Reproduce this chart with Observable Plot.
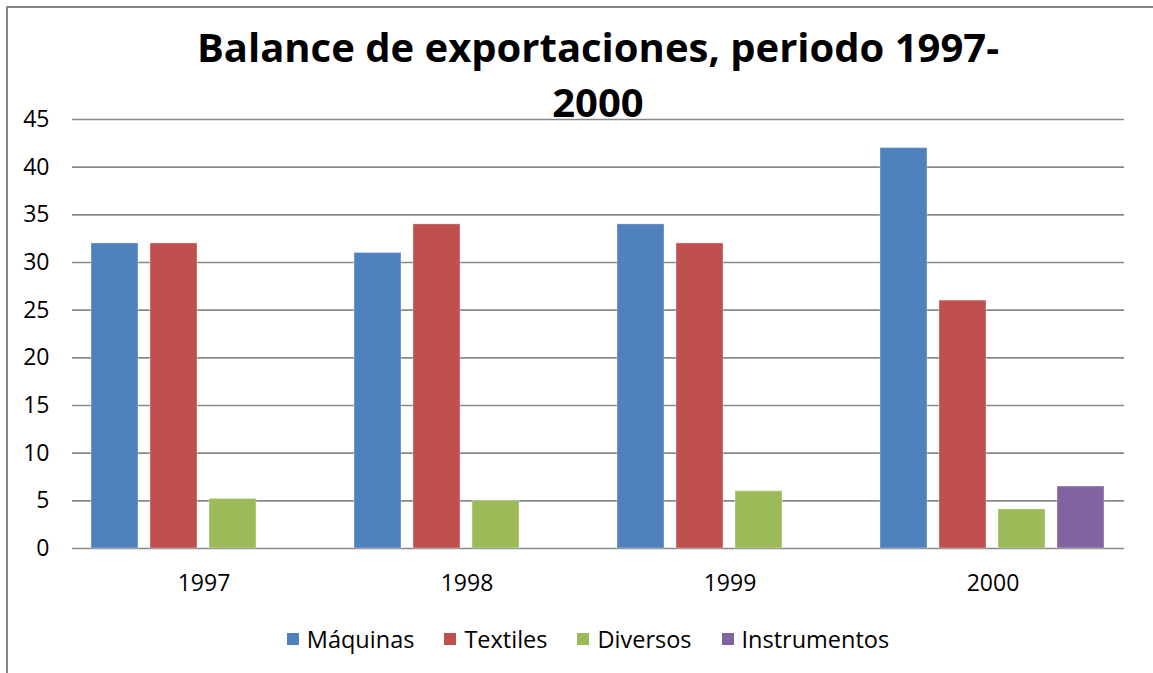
<!DOCTYPE html>
<html>
<head>
<meta charset="utf-8">
<script src="https://cdn.jsdelivr.net/npm/d3@7"></script>
<script src="https://cdn.jsdelivr.net/npm/@observablehq/plot@0.6"></script>
<style>
  html, body { margin: 0; padding: 0; background: #fff; }
  #wrap { position: relative; width: 1153px; height: 673px; overflow: hidden; font-family: "Open Sans", sans-serif; }
  #frame { position: absolute; left: 6px; top: 6px; width: 1300px; height: 900px; border-left: 2px solid #878787; border-top: 2px solid #878787; }
  #title { position: absolute; left: 48px; width: 1100px; top: 19px; text-align: center; font-weight: bold; font-size: 40px; line-height: 55px; color: #000; z-index: 2; }
  #chart { position: absolute; left: 0; top: 0; z-index: 1; }
  #legend { position: absolute; left: 0; width: 1176px; top: 625px; height: 28px; display: flex; justify-content: center; align-items: center; font-size: 23.5px; color: #000; }
  .item { display: flex; align-items: center; margin: 0 15px; }
  .sw { width: 12px; height: 12px; margin-right: 8px; }
</style>
</head>
<body>
<div id="wrap">
  <div id="frame"></div>
  <div id="chart"></div>
  <div id="title">Balance de exportaciones, periodo 1997-<br>2000</div>
  <div id="legend"></div>
</div>
<script>
const years = ["1997", "1998", "1999", "2000"];
const series = ["Máquinas", "Textiles", "Diversos", "Instrumentos"];
const maquinas = [32, 31, 34, 42];
const textiles = [32, 34, 32, 26];
const diversos = [5.2, 5, 6, 4.1];
const instrumentos = [null, null, null, 6.5];
const colors = ["#4F81BD", "#C0504D", "#9BBB59", "#8064A2"];
const yTicks = [0, 5, 10, 15, 20, 25, 30, 35, 40, 45];

const seriesValues = [maquinas, textiles, diversos, instrumentos];
const rows = [];
years.forEach((yr, i) => {
  seriesValues.forEach((arr, j) => {
    if (arr[i] != null) rows.push({year: yr, series: series[j], value: arr[i]});
  });
});

const chart = Plot.plot({
  width: 1153,
  height: 610,
  marginTop: 119,
  marginLeft: 71,
  marginRight: 28,
  marginBottom: 62,
  style: {fontFamily: "Open Sans", fontSize: "23px", color: "#000", background: "transparent", overflow: "visible"},
  fx: {domain: years, padding: 0, label: null, axis: "bottom", tickSize: 0, tickPadding: 26},
  x: {domain: series, axis: null, paddingInner: 0.2, paddingOuter: 0.296},
  y: {domain: [0, 45], ticks: yTicks, tickSize: 0, tickPadding: 23, label: null},
  color: {domain: series, range: colors},
  marks: [
    Plot.ruleY(yTicks, {stroke: "#888", strokeWidth: 1.6}),
    Plot.barY(rows, {fx: "year", x: "series", y: "value", fill: "series", stroke: "white", strokeOpacity: 0.35, strokeWidth: 1})
  ]
});
document.getElementById("chart").appendChild(chart);

const legend = document.getElementById("legend");
series.forEach((s, i) => {
  const it = document.createElement("div");
  it.className = "item";
  const sw = document.createElement("div");
  sw.className = "sw";
  sw.style.background = colors[i];
  const t = document.createElement("span");
  t.textContent = s;
  it.appendChild(sw);
  it.appendChild(t);
  legend.appendChild(it);
});
</script>
</body>
</html>
